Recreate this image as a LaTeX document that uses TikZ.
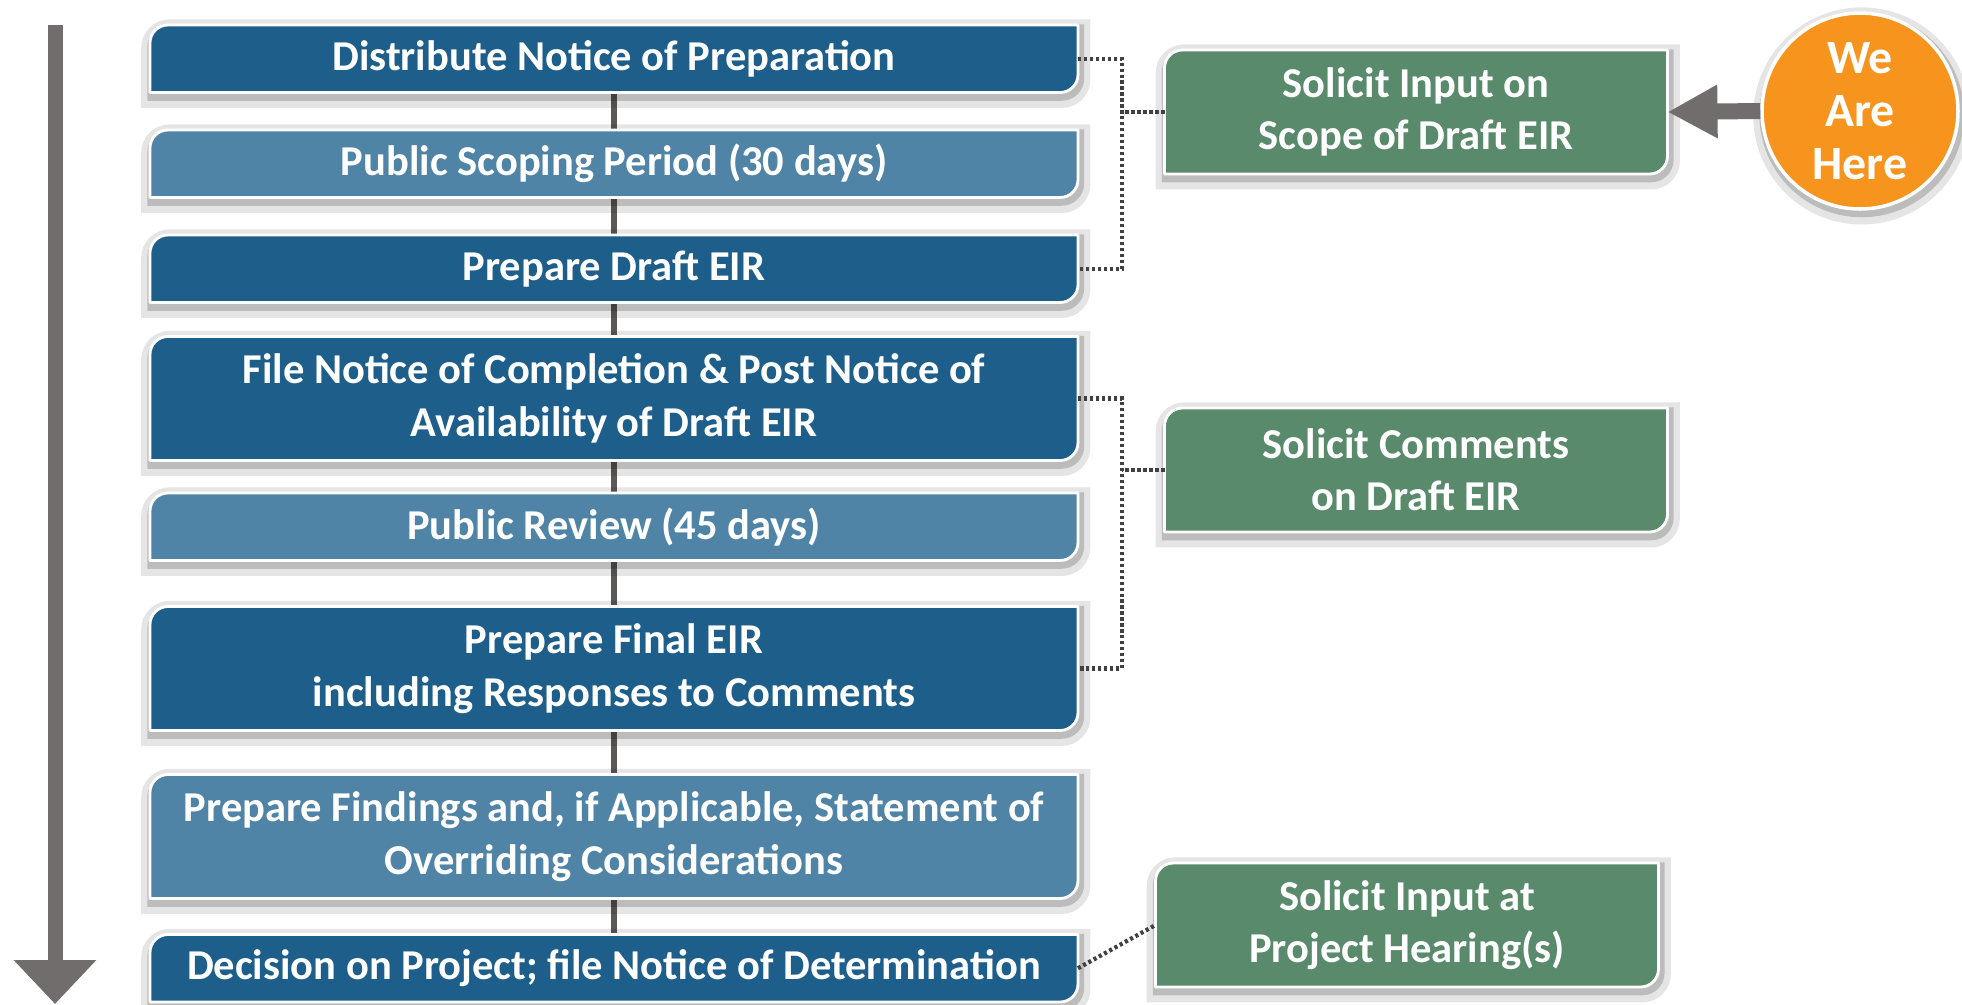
\documentclass[tikz,border=0pt]{standalone}
\usepackage{fontspec}
\setmainfont{Carlito}
\usetikzlibrary{positioning,backgrounds,arrows.meta}

\definecolor{deepblue}{HTML}{1D5F8A}
\definecolor{paleblue}{HTML}{5084A6}
\definecolor{leafgreen}{HTML}{598A6B}
\definecolor{herecol}{HTML}{F7941E}
\definecolor{arrowgray}{HTML}{716D6D}
\definecolor{stemgray}{HTML}{5C5858}

\begin{document}
\begin{tikzpicture}[
  stage/.style={text=white,font=\fontsize{12.1}{14.9}\selectfont\bfseries,align=center,
    minimum width=9.28cm,inner sep=0pt,outer sep=0pt},
  one/.style={stage,minimum height=0.675cm},
  two/.style={stage,minimum height=1.24cm},
  input/.style={stage,minimum width=5.03cm,minimum height=1.24cm},
  soft/.style={
    preaction={fill=none,draw=black,draw opacity=.10,line width=6pt,
      transform canvas={xshift=.5pt,yshift=-1.4pt}},
    preaction={fill=none,draw=black,draw opacity=.18,line width=2.5pt,
      transform canvas={xshift=.5pt,yshift=-1.1pt}}},
  tile/.style={fill=#1,draw=white,line width=0.8pt,line join=round,soft},
  stem/.style={stemgray,line width=1.8pt},
  dots/.style={black!75,line width=1.2pt,dash pattern=on 0.9pt off 0.8pt},
  pointer/.style={arrowgray,line width=0.16cm,-{Triangle[length=0.5cm,width=0.5cm]}},
  timeline/.style={arrowgray,line width=0.15cm,-{Triangle[length=0.44cm,width=0.8cm]}},
  node distance=0.375cm]

\useasboundingbox (0,0) rectangle (19.62,-10.04);

% the steps, top to bottom
\node[one] (s1) at (6.14,-0.5875) {Distribute Notice of Preparation};
\node[one] (s2) [below = of s1] {Public Scoping Period (30 days)};
\node[one] (s3) [below = of s2] {Prepare Draft EIR};
\node[two] (s4) [below = 0.34cm of s3] {File Notice of Completion \& Post Notice of\\Availability of Draft EIR};
\node[one] (s5) [below = 0.325cm of s4] {Public Review (45 days)};
\node[two] (s6) [below = 0.46cm of s5] {Prepare Final EIR\\including Responses to Comments};
\node[two] (s7) [below = 0.44cm of s6] {Prepare Findings and, if Applicable, Statement of\\Overriding Considerations};
\node[one] (s8) [below = 0.36cm of s7] {Decision on Project; file Notice of Determination};

% public input
\node[input] (in1) at (14.16,-1.12) {Solicit Input on\\Scope of Draft EIR};
\node[input] (in2) at (14.16,-4.70) {Solicit Comments\\on Draft EIR};
\node[input] (in3) at (14.07,-9.25) {Solicit Input at\\Project Hearing(s)};

\node[circle,fill=herecol,draw=white,line width=1pt,soft,minimum size=1.96cm,inner sep=0pt,
  text=white,font=\fontsize{13.6}{15}\selectfont\bfseries,align=center] (here) at (18.60,-1.11) {We\\Are\\Here};

\draw[pointer] (here.west) -- (in1.east);

\coordinate (t0) at (0.55,-0.25);
\coordinate (t1) at (0.55,-10.04);
\draw[timeline] (t0) -- (t1);

% brackets
\coordinate (k1) at ([xshift=0.44cm]s1.east);
\coordinate (k2) at ([xshift=0.44cm]s4.east);
\draw[dots] (s1.east) -- (k1) |- (s3.east);
\draw[dots] (in1.west) -- (in1.west -| k1);
\draw[dots] (s4.east) -- (k2) |- (s6.east);
\draw[dots] (in2.west) -- (in2.west -| k2);
\draw[dots] (s8.east) -- (in3.west);

\begin{scope}[on background layer]
  \foreach \a/\b in {s1/s2,s2/s3,s3/s4,s4/s5,s5/s6,s6/s7,s7/s8}
    \draw[stem] (\a.south) -- (\b.north);
  \foreach \n/\c in {s1/deepblue,s2/paleblue,s3/deepblue,s4/deepblue,s5/paleblue,s6/deepblue,
      s7/paleblue,s8/deepblue,in1/leafgreen,in2/leafgreen,in3/leafgreen}
    \filldraw[tile=\c] (\n.north east) -- ([yshift=1.8mm]\n.south east)
      arc[start angle=0,end angle=-90,radius=1.8mm] -- (\n.south west)
      -- ([yshift=-1.8mm]\n.north west) arc[start angle=180,end angle=90,radius=1.8mm] -- cycle;
\end{scope}
\end{tikzpicture}
\end{document}
